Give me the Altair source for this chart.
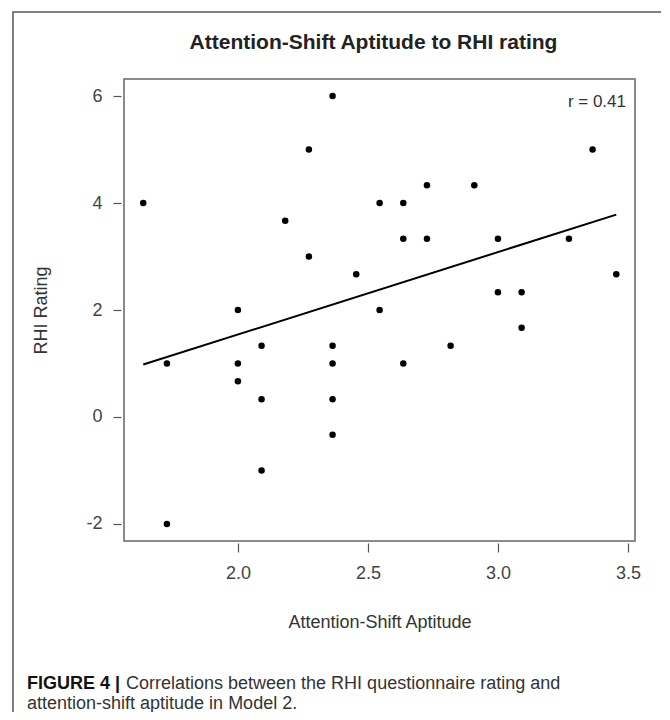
import altair as alt
import pandas as pd

# Attention-shift aptitude (x) and RHI rating (y)
aptitude = [1.636, 1.727, 1.727, 2.0, 2.0, 2.0, 2.091, 2.091, 2.091, 2.182,
            2.273, 2.273, 2.364, 2.364, 2.364, 2.364, 2.364, 2.455, 2.545, 2.545,
            2.636, 2.636, 2.636, 2.727, 2.727, 2.818, 2.909, 3.0, 3.0, 3.091,
            3.091, 3.273, 3.364, 3.455]
rhi = [4.0, 1.0, -2.0, 2.0, 1.0, 0.667, 1.333, 0.333, -1.0, 3.667,
       5.0, 3.0, 6.0, 1.333, 1.0, 0.333, -0.333, 2.667, 4.0, 2.0,
       4.0, 3.333, 1.0, 4.333, 3.333, 1.333, 4.333, 3.333, 2.333, 2.333,
       1.667, 3.333, 5.0, 2.667]

x_ticks = [2.0, 2.5, 3.0, 3.5]
y_ticks = [-2, 0, 2, 4, 6]

title_text = "Attention-Shift Aptitude to RHI rating"
r_text = "r = 0.41"
x_title = "Attention-Shift Aptitude"
y_title = "RHI Rating"
caption_bold = "FIGURE 4 |"
caption_line1 = "Correlations between the RHI questionnaire rating and"
caption_line2 = "attention-shift aptitude in Model 2."

df = pd.DataFrame({"x": aptitude, "y": rhi})
one = pd.DataFrame({"k": [0]})

W, H = 511, 462
FONT = "Liberation Sans, Arial, Helvetica, sans-serif"

xscale = alt.Scale(domain=[1.562, 3.527], nice=False, zero=False)
yscale = alt.Scale(domain=[-2.32, 6.32], nice=False, zero=False)

points = alt.Chart(df).mark_circle(color="black", opacity=1, size=42).encode(
    x=alt.X("x:Q", scale=xscale,
            axis=alt.Axis(values=x_ticks, format=".1f", title=x_title,
                          grid=False, domain=False, tickSize=9, offset=2,
                          tickColor="#555", tickWidth=1.2,
                          labelFontSize=18, labelColor="#444", labelPadding=12,
                          labelFont=FONT, titleFont=FONT, titleFontSize=18,
                          titleFontWeight="normal", titleColor="#333",
                          titleY=79, titleBaseline="middle")),
    y=alt.Y("y:Q", scale=yscale,
            axis=alt.Axis(values=y_ticks, title=y_title,
                          labelExpr="'' + datum.value",
                          grid=False, domain=False, tickSize=8, offset=3,
                          tickColor="#555", tickWidth=1.2,
                          labelFontSize=18, labelColor="#444", labelPadding=11,
                          labelFont=FONT, titleFont=FONT, titleFontSize=18,
                          titleFontWeight="normal", titleColor="#333",
                          titleX=-80, titleY=H / 2, titleAngle=-90,
                          titleBaseline="middle", titleAlign="center")),
)

fit = alt.Chart(df).transform_regression("x", "y").mark_line(
    color="black", strokeWidth=2).encode(x="x:Q", y="y:Q")

base1 = alt.Chart(one)

rlabel = base1.mark_text(align="right", baseline="middle", fontSize=17,
                         font=FONT, color="#333").encode(
    x=alt.value(W - 9), y=alt.value(23), text=alt.value(r_text))

title = base1.mark_text(align="center", baseline="middle", fontSize=21,
                        fontWeight="bold", font=FONT, color="#222").encode(
    x=alt.value(W / 2 - 6), y=alt.value(-36), text=alt.value(title_text))

frame = base1.mark_rect(fill=None, stroke="#555", strokeWidth=1.5).encode(
    x=alt.value(-111), x2=alt.value(542), y=alt.value(-67), y2=alt.value(700))

cap_b = base1.mark_text(align="left", baseline="middle", fontSize=18,
                        fontWeight="bold", font=FONT, color="#111").encode(
    x=alt.value(-97), y=alt.value(605), text=alt.value(caption_bold))
cap_1 = base1.mark_text(align="left", baseline="middle", fontSize=18,
                        font=FONT, color="#333").encode(
    x=alt.value(2), y=alt.value(605), text=alt.value(caption_line1))
cap_2 = base1.mark_text(align="left", baseline="middle", fontSize=18,
                        font=FONT, color="#333").encode(
    x=alt.value(-97), y=alt.value(625), text=alt.value(caption_line2))

chart = alt.layer(frame, points, fit, rlabel, title, cap_b, cap_1, cap_2).properties(
    width=W, height=H,
    autosize=alt.AutoSizeParams(type="none"),
    padding={"left": 116, "top": 71, "right": 26, "bottom": 171},
    background="white",
).configure_view(stroke="#666", strokeWidth=1.5)

chart.save("out.html", embed_options={"renderer": "svg", "actions": False})
